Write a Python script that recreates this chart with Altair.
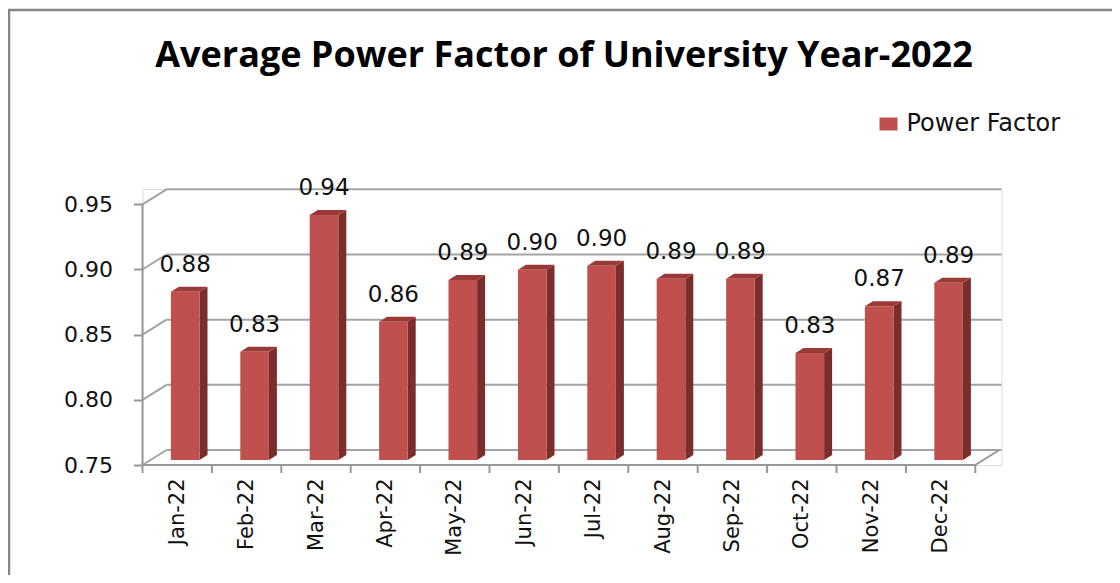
import json
import altair as alt
import pandas as pd

# ---------------- data ----------------
months = ["Jan-22", "Feb-22", "Mar-22", "Apr-22", "May-22", "Jun-22",
          "Jul-22", "Aug-22", "Sep-22", "Oct-22", "Nov-22", "Dec-22"]
power_factor = [0.879, 0.833, 0.938, 0.856, 0.888, 0.896,
                0.899, 0.889, 0.889, 0.832, 0.868, 0.886]
y_ticks = [0.75, 0.80, 0.85, 0.90, 0.95]
series_name = "Power Factor"
title_text = "Average Power Factor of University Year-2022"

# ---------------- geometry (style) ----------------
W, H = 859, 276            # plot area incl. 3-D depth
CAT_PX = 69.4              # pixels per category on the front plane
UNIT_PX = 1303.5           # pixels per unit of power factor
Y_MIN = 0.75
DEPTH_X, DEPTH_Y = 24, 15  # depth of the back wall
BAR_HALF = 14.3            # half width of a bar's front face
BAR_DX, BAR_DY = 8, 5      # depth of a bar / position of its front face

def ux(px):
    return px / CAT_PX

def uy(px):
    return px / UNIT_PX

n = len(months)
x_scale = alt.Scale(domain=[0, W / CAT_PX], nice=False, zero=False)
y_scale = alt.Scale(domain=[Y_MIN, Y_MIN + H / UNIT_PX], nice=False, zero=False)

FONT = "DejaVu Sans"
TXT = "#111111"
GRID = "#a4a4a4"
AXISC = "#979797"
FRONT = "#C0504D"
SIDE = "#7A2D2B"
TOP = "#9A3A37"

x_axis = alt.Axis(values=[i + 0.5 for i in range(n)],
                  labelExpr=f"{json.dumps(months)}[round(datum.value - 0.5)]",
                  labelAngle=-90, ticks=False, domain=False, grid=False,
                  labelPadding=13, labelFont=FONT, labelFontSize=21,
                  labelColor=TXT, labelOverlap=False, labelFlush=False, title=None)
y_axis = alt.Axis(values=y_ticks, format=".2f", tickSize=9, tickColor=AXISC,
                  tickWidth=2, domain=False, grid=False, labelPadding=21,
                  labelFont=FONT, labelFontSize=22, labelColor=TXT, title=None)

def X(field):
    return alt.X(field, type="quantitative", scale=x_scale, axis=x_axis)

def Y(field):
    return alt.Y(field, type="quantitative", scale=y_scale, axis=y_axis, stack=None)

# ---------------- derived tables ----------------
bars = pd.DataFrame({
    "month": months,
    "series": [series_name] * n,
    "value": power_factor,
    "label": [f"{v:.2f}" for v in power_factor],
})
bars["xc"] = [i + 0.5 + ux(BAR_DX) for i in range(n)]
bars["x0"] = bars["xc"] - ux(BAR_HALF)
bars["x1"] = bars["xc"] + ux(BAR_HALF)
bars["ytop"] = bars["value"] + uy(BAR_DY)
bars["ybase"] = Y_MIN + uy(BAR_DY)

side_rows, top_rows = [], []
for i, (m, v) in enumerate(zip(months, power_factor)):
    l = i + 0.5 + ux(BAR_DX - BAR_HALF)
    r = i + 0.5 + ux(BAR_DX + BAR_HALF)
    d1, d2 = uy(BAR_DY), uy(2 * BAR_DY)
    side_rows += [
        {"month": m, "x": r, "y": v + d1, "y2": Y_MIN + d1},
        {"month": m, "x": r + ux(BAR_DX), "y": v + d2, "y2": Y_MIN + d2},
    ]
    top_rows += [
        {"month": m, "x": l, "y": v + d1, "y2": v + d1},
        {"month": m, "x": l + ux(BAR_DX), "y": v + d2, "y2": v + d1},
        {"month": m, "x": r, "y": v + d2, "y2": v + d1},
        {"month": m, "x": r + ux(BAR_DX), "y": v + d2, "y2": v + d2},
    ]
side = pd.DataFrame(side_rows)
topf = pd.DataFrame(top_rows)

grid = pd.DataFrame({"t": y_ticks})
grid["tb"] = grid["t"] + uy(DEPTH_Y)
grid["x0"] = 0.0
grid["xb"] = ux(DEPTH_X)
grid["x1"] = W / CAT_PX

bounds = pd.DataFrame({"k": list(range(n + 1))})
bounds["y0"] = Y_MIN
bounds["y1"] = Y_MIN - uy(8)

floor = pd.DataFrame({"x0": [0.0, float(n)], "x1": [float(n), n + ux(DEPTH_X)],
                      "y0": [Y_MIN, Y_MIN], "y1": [Y_MIN, Y_MIN + uy(DEPTH_Y)]})
yline = pd.DataFrame({"x": [0.0], "y0": [y_ticks[0]], "y1": [y_ticks[-1]]})
one = pd.DataFrame({"a": [0]})

# ---------------- layers ----------------
back_grid = alt.Chart(grid).mark_rule(color=GRID, strokeWidth=2).encode(
    x=X("xb"), x2="x1", y=Y("tb"))
diag = alt.Chart(grid).mark_rule(color=GRID, strokeWidth=2).encode(
    x=X("x0"), x2="xb", y=Y("t"), y2="tb")
floor_l = alt.Chart(floor).mark_rule(color=AXISC, strokeWidth=2).encode(
    x=X("x0"), x2="x1", y=Y("y0"), y2="y1")
x_ticks = alt.Chart(bounds).mark_rule(color=AXISC, strokeWidth=2).encode(
    x=X("k"), y=Y("y0"), y2="y1")
y_line = alt.Chart(yline).mark_rule(color=AXISC, strokeWidth=2).encode(
    x=X("x"), y=Y("y0"), y2="y1")

front = alt.Chart(bars).mark_rect(stroke=None).encode(
    x=X("x0"), x2="x1", y=Y("ytop"), y2="ybase",
    color=alt.Color("series:N", scale=alt.Scale(range=[FRONT]),
                    legend=alt.Legend(
                        title=None, orient="none", legendX=734, legendY=-77,
                        symbolType="M-1,-0.72L1,-0.72L1,0.72L-1,0.72Z",
                        symbolSize=324, symbolStrokeWidth=0, symbolOpacity=1,
                        labelFont=FONT, labelFontSize=24, labelColor=TXT,
                        labelOffset=6, padding=0)))
side_l = alt.Chart(side).mark_area(color=SIDE, interpolate="linear").encode(
    x=X("x"), y=Y("y"), y2="y2", detail="month:N")
top_l = alt.Chart(topf).mark_area(color=TOP, interpolate="linear").encode(
    x=X("x"), y=Y("y"), y2="y2", detail="month:N")
labels = alt.Chart(bars).mark_text(font=FONT, fontSize=23, color=TXT,
                                   baseline="alphabetic", dy=-20).encode(
    x=X("xc"), y=Y("ytop"), text="label:N")

frame_left = alt.Chart(one).mark_rule(color="#878787", strokeWidth=2.5).encode(
    x=alt.value(-133.5), y=alt.value(-180), y2=alt.value(400))
frame_top = alt.Chart(one).mark_rule(color="#878787", strokeWidth=2.5).encode(
    x=alt.value(-135), x2=alt.value(1000), y=alt.value(-179))

chart = alt.layer(
    frame_left, frame_top, back_grid, diag, floor_l, x_ticks, y_line,
    side_l, top_l, front, labels
).properties(
    width=W, height=H,
    title=alt.TitleParams(title_text, font="Open Sans", fontSize=36,
                          fontWeight="bold", color="#000000", anchor="middle",
                          frame="group", dx=-8, offset=-95, baseline="alphabetic"),
    padding={"left": 134.5, "top": 181, "right": 110, "bottom": 110},
    autosize=alt.AutoSizeParams(type="none"),
).configure_view(stroke=None).configure(background="white")

chart.save("out.html", embed_options={"renderer": "svg", "actions": False})
